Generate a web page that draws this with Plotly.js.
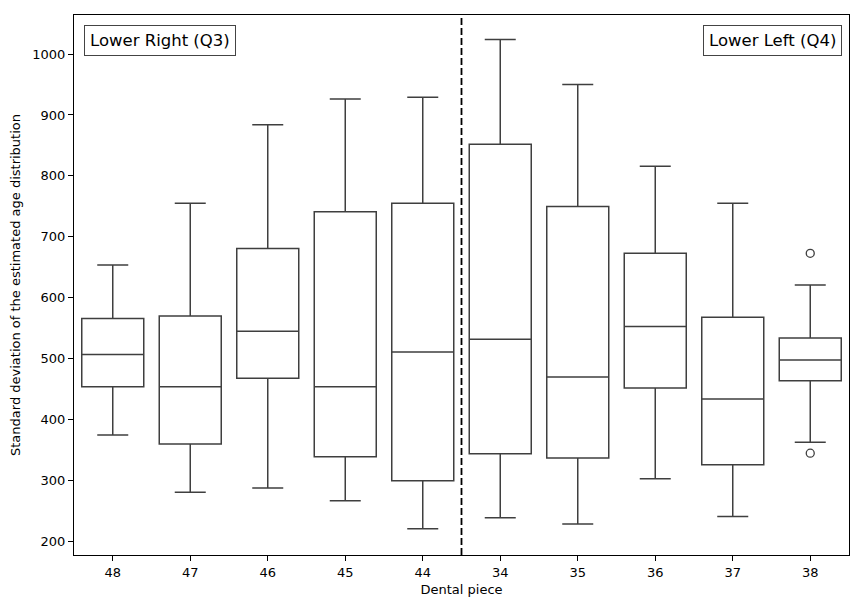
<!DOCTYPE html>
<html>
<head>
<meta charset="utf-8">
<script src="https://cdn.plot.ly/plotly-3.0.1.min.js"></script>
<style>html,body{margin:0;padding:0;background:#fff;}#chart{width:859px;height:607px;}</style>
</head>
<body>
<div id="chart"></div>
<script>
const categories = ['48','47','46','45','44','34','35','36','37','38'];
const q1Values     = [454, 360, 468, 339, 300, 344, 337, 452, 326, 464];
const medianValues = [507, 454, 545, 454, 511, 532, 470, 553, 434, 498];
const q3Values     = [566, 570, 681, 741, 755, 852, 750, 673, 568, 534];
const lowerWhisker = [375, 281, 288, 267, 221, 239, 229, 303, 241, 363];
const upperWhisker = [654, 755, 884, 926, 929, 1024, 950, 816, 755, 621];
const outlierCats  = ['38', '38'];
const outlierVals  = [673, 345];
const yTicks = [200, 300, 400, 500, 600, 700, 800, 900, 1000];

const boxColor = '#3f3f3f';
const fontFam = 'DejaVu Sans, sans-serif';

const traces = [
  {
    type: 'box',
    x: categories,
    q1: q1Values,
    median: medianValues,
    q3: q3Values,
    lowerfence: lowerWhisker,
    upperfence: upperWhisker,
    width: 0.8,
    whiskerwidth: 0.5,
    fillcolor: 'rgba(255,255,255,1)',
    line: {color: boxColor, width: 1.5},
    boxpoints: false,
    showlegend: false,
    hoverinfo: 'skip'
  },
  {
    type: 'scatter',
    mode: 'markers',
    x: outlierCats,
    y: outlierVals,
    marker: {symbol: 'circle-open', size: 8, color: boxColor, line: {width: 1.3, color: boxColor}},
    showlegend: false,
    hoverinfo: 'skip'
  }
];

const layout = {
  width: 859,
  height: 607,
  margin: {l: 74, r: 10, t: 15, b: 52},
  paper_bgcolor: '#fff',
  plot_bgcolor: '#fff',
  font: {family: fontFam, size: 13, color: '#000'},
  showlegend: false,
  xaxis: {
    type: 'category',
    categoryorder: 'array',
    categoryarray: categories,
    range: [-0.5, 9.5],
    showgrid: false,
    zeroline: false,
    showline: true,
    mirror: true,
    linecolor: '#000',
    linewidth: 1,
    ticks: 'outside',
    ticklen: 5,
    tickcolor: '#000',
    tickfont: {family: fontFam, size: 13, color: '#000'},
    title: {text: 'Dental piece', font: {family: fontFam, size: 13, color: '#000'}, standoff: 6}
  },
  yaxis: {
    range: [178, 1064],
    tickvals: yTicks,
    ticktext: yTicks.map(String),
    showgrid: false,
    zeroline: false,
    showline: true,
    mirror: true,
    linecolor: '#000',
    linewidth: 1,
    ticks: 'outside',
    ticklen: 5,
    tickcolor: '#000',
    tickfont: {family: fontFam, size: 13, color: '#000'},
    title: {text: 'Standard deviation of the estimated age distribution', font: {family: fontFam, size: 13, color: '#000'}, standoff: 8}
  },
  shapes: [
    {type: 'line', xref: 'x', yref: 'paper', x0: 4.5, x1: 4.5, y0: 0, y1: 1,
     line: {color: '#000', width: 1.8, dash: '7px,3px'}}
  ],
  annotations: [
    {xref: 'paper', yref: 'paper', x: 0.0129, y: 0.982, xanchor: 'left', yanchor: 'top',
     text: 'Lower Right (Q3)', showarrow: false,
     font: {family: fontFam, size: 16.5, color: '#000'},
     bgcolor: '#fff', bordercolor: '#444', borderwidth: 1, borderpad: 5},
    {xref: 'paper', yref: 'paper', x: 0.991, y: 0.982, xanchor: 'right', yanchor: 'top',
     text: 'Lower Left (Q4)', showarrow: false,
     font: {family: fontFam, size: 16.5, color: '#000'},
     bgcolor: '#fff', bordercolor: '#444', borderwidth: 1, borderpad: 5}
  ]
};

Plotly.newPlot('chart', traces, layout, {staticPlot: true, displayModeBar: false});
</script>
</body>
</html>
